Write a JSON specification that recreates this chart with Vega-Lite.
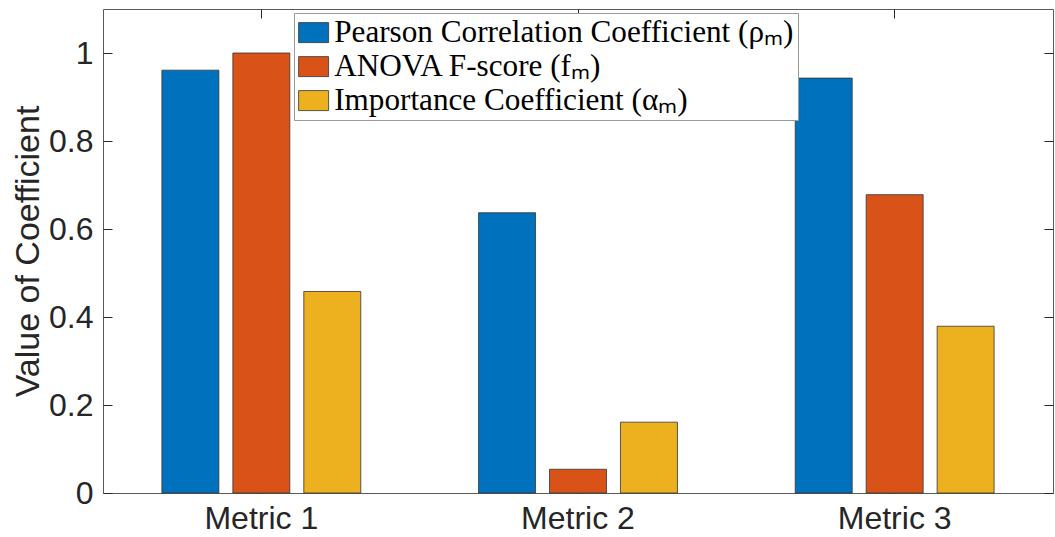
{
  "$schema": "https://vega.github.io/schema/vega-lite/v6.json",
  "autosize": "none",
  "padding": {"left": 103, "top": 9, "right": 2, "bottom": 44},
  "width": 950,
  "height": 484,
  "background": "white",
  "config": {
    "view": {"stroke": "#5a5a5a", "strokeWidth": 1},
    "axis": {"grid": false}
  },
  "data": {
    "values": [
      {"metric": "Metric 1", "series": "Pearson Correlation Coefficient (ρₘ)", "value": 0.961},
      {"metric": "Metric 1", "series": "ANOVA F-score (fₘ)", "value": 1.0},
      {"metric": "Metric 1", "series": "Importance Coefficient (αₘ)", "value": 0.458},
      {"metric": "Metric 2", "series": "Pearson Correlation Coefficient (ρₘ)", "value": 0.637},
      {"metric": "Metric 2", "series": "ANOVA F-score (fₘ)", "value": 0.054},
      {"metric": "Metric 2", "series": "Importance Coefficient (αₘ)", "value": 0.161},
      {"metric": "Metric 3", "series": "Pearson Correlation Coefficient (ρₘ)", "value": 0.943},
      {"metric": "Metric 3", "series": "ANOVA F-score (fₘ)", "value": 0.678},
      {"metric": "Metric 3", "series": "Importance Coefficient (αₘ)", "value": 0.379}
    ]
  },
  "layer": [
    {
      "mark": {"type": "bar", "stroke": "#333333", "strokeWidth": 0.8},
      "encoding": {
        "x": {
          "field": "metric", "type": "nominal",
          "scale": {"domain": ["Metric 1", "Metric 2", "Metric 3"], "paddingInner": 0, "paddingOuter": 0},
          "axis": {
            "orient": "bottom", "title": null, "labelAngle": 0,
            "labelFont": "Liberation Sans", "labelFontSize": 32, "labelColor": "#262626",
            "tickSize": -9, "tickColor": "#262626", "labelPadding": 19,
            "domain": false
          }
        },
        "xOffset": {
          "field": "series", "type": "nominal",
          "scale": {
            "domain": ["Pearson Correlation Coefficient (ρₘ)", "ANOVA F-score (fₘ)", "Importance Coefficient (αₘ)"],
            "paddingInner": 0.197, "paddingOuter": 0.83
          }
        },
        "y": {
          "field": "value", "type": "quantitative",
          "scale": {"domain": [0, 1.1], "nice": false, "zero": true},
          "axis": {
            "orient": "left", "title": "Value of Coefficient",
            "values": [0, 0.2, 0.4, 0.6, 0.8, 1], "format": "~g",
            "labelFont": "Liberation Sans", "labelFontSize": 32, "labelColor": "#262626",
            "titleFont": "Liberation Sans", "titleFontSize": 34, "titleFontWeight": "normal", "titleColor": "#262626",
            "titlePadding": 3,
            "tickSize": -9, "tickColor": "#262626", "labelPadding": 19,
            "domain": false
          }
        },
        "fill": {
          "field": "series", "type": "nominal",
          "scale": {
            "domain": ["Pearson Correlation Coefficient (ρₘ)", "ANOVA F-score (fₘ)", "Importance Coefficient (αₘ)"],
            "range": ["#0072BD", "#D95319", "#EDB120"]
          },
          "legend": {
            "orient": "none", "legendX": 191, "legendY": 4,
            "title": null, "direction": "vertical",
            "fillColor": "white", "strokeColor": "#9a9a9a", "padding": 4, "cornerRadius": 0,
            "labelFont": "Liberation Serif", "labelFontSize": 31.2, "labelColor": "#000000", "labelLimit": 0,
            "labelOffset": 5,
            "symbolType": "M-1,-0.667H1V0.667H-1Z", "symbolSize": 900,
            "symbolStrokeColor": "#333333", "symbolStrokeWidth": 0.8, "symbolOpacity": 1,
            "rowPadding": 2
          }
        }
      }
    },
    {
      "mark": {"type": "bar", "opacity": 0},
      "encoding": {
        "x": {
          "field": "metric", "type": "nominal",
          "axis": {"orient": "top", "title": null, "labels": false, "tickSize": -9, "tickColor": "#262626", "domain": false}
        },
        "y": {
          "field": "value", "type": "quantitative",
          "axis": {"orient": "right", "title": null, "labels": false, "values": [0, 0.2, 0.4, 0.6, 0.8, 1], "tickSize": -9, "tickColor": "#262626", "domain": false}
        }
      }
    }
  ],
  "resolve": {"axis": {"x": "independent", "y": "independent"}}
}
